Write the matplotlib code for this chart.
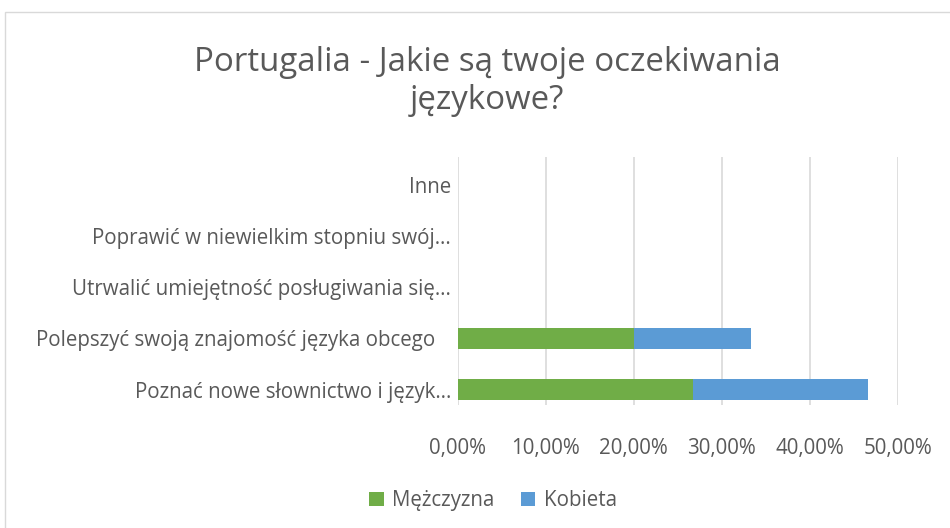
import matplotlib.pyplot as plt
from matplotlib.patches import Rectangle

plt.rcParams['font.family'] = ['Open Sans', 'DejaVu Sans']

categories = ['Poznać nowe słownictwo i język…',
              'Polepszyć swoją znajomość języka obcego   ',
              'Utrwalić umiejętność posługiwania się…',
              'Poprawić w niewielkim stopniu swój…',
              'Inne']
mezczyzna = [0.2667, 0.20, 0.0, 0.0, 0.0]
kobieta = [0.20, 0.1333, 0.0, 0.0, 0.0]
xticks = [0, 0.1, 0.2, 0.3, 0.4, 0.5]
xtick_labels = ['0,00%', '10,00%', '20,00%', '30,00%', '40,00%', '50,00%']

text_color = '#595959'
green = '#70ad47'
blue = '#5b9bd5'

fig = plt.figure(figsize=(9.5, 5.28), dpi=100)
ax = fig.add_axes([0.482, 0.233, 0.463, 0.47])

y = range(len(categories))
ax.barh(y, mezczyzna, height=0.4, color=green, label='Mężczyzna')
ax.barh(y, kobieta, height=0.4, left=mezczyzna, color=blue, label='Kobieta')

ax.set_xlim(0, 0.5)
ax.set_ylim(-0.3, 4.55)
ax.set_xticks(xticks)
ax.set_xticklabels(xtick_labels)
ax.set_yticks(list(y))
ax.set_yticklabels(categories)
ax.tick_params(axis='both', length=0, colors=text_color, labelsize=14.8)
ax.tick_params(axis='x', pad=24)
ax.tick_params(axis='y', pad=5)
ax.grid(axis='x', color='#d9d9d9', linewidth=1.2)
ax.set_axisbelow(True)
for s in ax.spines.values():
    s.set_visible(False)

fig.text(0.513, 0.845, 'Portugalia - Jakie są twoje oczekiwania\njęzykowe?',
         ha='center', va='center', fontsize=23.8, color=text_color, linespacing=1.2)

fig.legend(loc='center', bbox_to_anchor=(0.519, 0.052), ncol=2, frameon=False,
           fontsize=14.8, labelcolor=text_color, handlelength=0.7, handleheight=0.7,
           handletextpad=0.4, columnspacing=1.3)

# ramka wykresu
fig.patches.append(Rectangle((0.005, -0.01), 1.1, 0.988, transform=fig.transFigure,
                             fill=False, edgecolor='#d9d9d9', linewidth=1))

fig.savefig('out.png', dpi=100)
